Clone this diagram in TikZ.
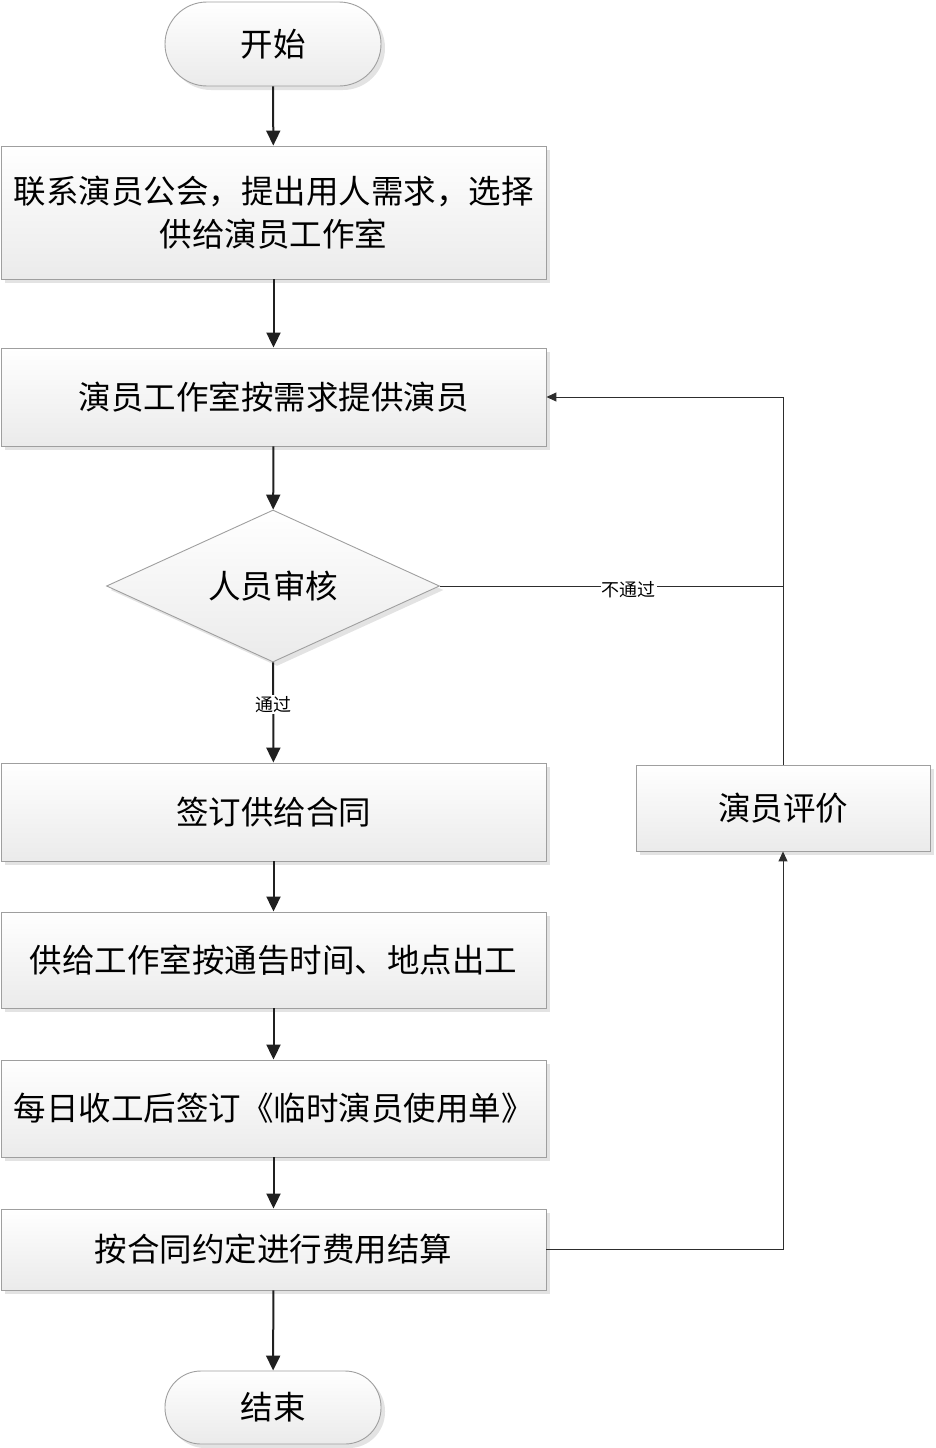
\documentclass[tikz,border=0pt]{standalone}
\usepackage{fontspec}
\setmainfont{Noto Sans CJK SC}
\usetikzlibrary{shapes.geometric,arrows.meta,shadows}
\begin{document}
\begin{tikzpicture}[x=1pt,y=-1pt,
  shape base/.style={draw=gray!75, line width=0.9pt, top color=white, bottom color=gray!16,
    drop shadow={shadow xshift=4pt,shadow yshift=-4pt,fill=gray!22,opacity=1},
    font=\fontsize{32.5}{43}\selectfont, align=center, inner sep=0pt},
  procbox/.style={shape base, rectangle, minimum width=545pt},
  termbox/.style={shape base, rectangle, rounded corners=42pt, minimum width=216pt, minimum height=84pt},
  decbox/.style={shape base, diamond, aspect=2.2, minimum width=333pt, minimum height=152pt},
  mainarrow/.style={draw=gray!25!black, line width=2pt, -{Triangle[length=15pt,width=14pt]}},
  looparrow/.style={draw=gray!35!black, line width=1pt, -{Triangle[length=10pt,width=9pt]}},
  loopline/.style={draw=gray!35!black, line width=1pt},
  edgelabel/.style={fill=white, font=\fontsize{18}{20}\selectfont, inner sep=1pt}
]
\useasboundingbox (0,0) rectangle (935,1448);
\node[termbox] (start) at (273,44) {开始};
\node[procbox, minimum height=133pt] (b1) at (273.5,212.5) {联系演员公会，提出用人需求，选择\\供给演员工作室};
\node[procbox, minimum height=98pt] (b2) at (273.5,397) {演员工作室按需求提供演员};
\node[decbox] (d) at (273,586) {人员审核};
\node[procbox, minimum height=98pt] (b3) at (273.5,812) {签订供给合同};
\node[procbox, minimum height=96pt] (b4) at (273.5,960) {供给工作室按通告时间、地点出工};
\node[procbox, minimum height=97pt] (b5) at (273.5,1108.5) {每日收工后签订《临时演员使用单》};
\node[procbox, minimum height=81pt] (b6) at (273.5,1249.5) {按合同约定进行费用结算};
\node[termbox, minimum height=73pt, rounded corners=36pt] (end) at (273,1407.5) {结束};
\node[shape base, rectangle, minimum width=294pt, minimum height=86pt] (ev) at (783,808) {演员评价};

\draw[mainarrow] (start) -- (b1);
\draw[mainarrow] (b1) -- (b2);
\draw[mainarrow] (b2) -- (d);
\draw[mainarrow] (d) -- node[edgelabel, pos=0.42] {通过} (b3);
\draw[mainarrow] (b3) -- (b4);
\draw[mainarrow] (b4) -- (b5);
\draw[mainarrow] (b5) -- (b6);
\draw[mainarrow] (b6) -- (end);

\coordinate (jn) at (783,586);
\draw[looparrow] (b6.east) -| (ev.south);
\draw[looparrow] (ev.north) |- (b2.east);
\draw[loopline] (d.east) -- node[edgelabel, pos=0.55, yshift=-4pt] {不通过} (jn);
\end{tikzpicture}
\end{document}
